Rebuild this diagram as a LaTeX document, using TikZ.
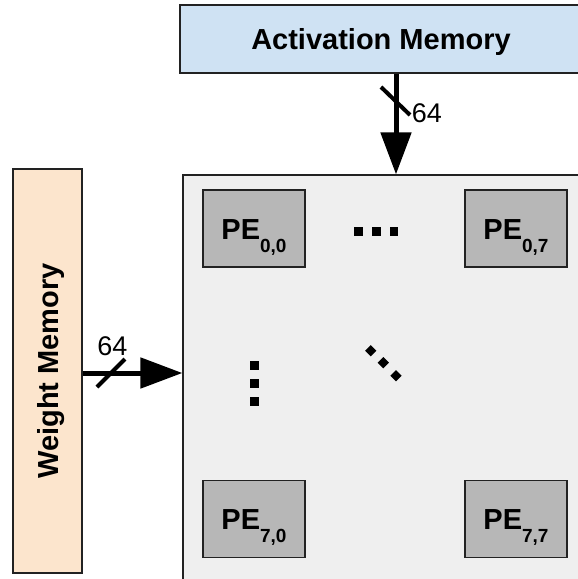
\documentclass[tikz,border=0pt]{standalone}
\usepackage{fontspec}
\setmainfont{Liberation Sans}
\usetikzlibrary{arrows.meta,calc}
\definecolor{actfill}{HTML}{CFE2F3}
\definecolor{wmfill}{HTML}{FCE5CD}
\definecolor{gridfill}{HTML}{EFEFEF}
\definecolor{pefill}{HTML}{B7B7B7}
\definecolor{edge}{HTML}{222222}
\tikzset{
  membox/.style={draw=edge, line width=1.2pt, inner sep=0pt},
  pebox/.style={draw=edge, fill=pefill, line width=1.2pt, minimum width=102pt, minimum height=77pt,
    inner sep=0pt, text height=27pt, text depth=6pt, font=\fontsize{29}{29}\selectfont\bfseries},
  bus/.style={line width=5pt, -{Triangle[length=42pt,width=30pt]}},
  slash/.style={line width=4pt},
  buslabel/.style={font=\fontsize{27}{27}\selectfont, inner sep=0pt},
  dotsq/.style={fill=black, minimum size=8.5pt, inner sep=0pt},
}
\newcommand{\pelabel}[1]{PE\raisebox{-13pt}{\fontsize{19}{19}\selectfont #1}}
\begin{document}
\begin{tikzpicture}[x=1pt,y=-1pt]
\useasboundingbox (0,0) rectangle (578,579);
\clip (0,0) rectangle (578,579);
\fill[white] (0,0) rectangle (578,579);
% memories
\node[membox, fill=actfill, minimum width=402pt, minimum height=68pt,
  text height=21pt, text depth=0pt, font=\fontsize{29}{29}\selectfont\bfseries] (act) at (381,39) {Activation Memory};
\node[membox, fill=wmfill, minimum width=69pt, minimum height=404pt] (wm) at (47.5,371) {};
\node[rotate=90, inner sep=0pt, text height=21pt, text depth=0pt, font=\fontsize{29}{29}\selectfont\bfseries] (wmtext) at (wm.center) {Weight Memory};
% PE grid
\node[membox, fill=gridfill, minimum width=417pt, minimum height=425pt] (grid) at (391.5,387.5) {};
\node[pebox] (pe00) at (254,228.5) {\pelabel{0,0}};
\node[pebox] (pe07) at (516,228.5) {\pelabel{0,7}};
\node[pebox] (pe70) at (254,519) {\pelabel{7,0}};
\node[pebox] (pe77) at (516,519) {\pelabel{7,7}};
% dots
\foreach \x in {358.5,376.5,394} \node[dotsq] at (\x,231.5) {};
\foreach \y in {365.5,383.5,401.5} \node[dotsq] at (254.5,\y) {};
\foreach \x/\y in {370.7/350.7,383.3/362.7,396/375.7} \node[dotsq, rotate=45, minimum size=8pt] at (\x,\y) {};
% buses
\coordinate (ax) at (396,0);
\coordinate (wy) at (0,373);
\draw[bus] (act.south -| ax) -- (grid.north -| ax);
\draw[bus] (wm.east |- wy) -- (grid.west |- wy);
\coordinate (as) at (395.5,101);
\coordinate (ws) at (111,373);
\draw[slash] ($(as)+(-14.5,-14)$) -- ($(as)+(14.5,14)$);
\draw[slash] ($(ws)+(-14,14)$) -- ($(ws)+(14,-14)$);
\node[buslabel] (al) at (427,113.5) {64};
\node[buslabel] (wl) at (112.5,346) {64};
\end{tikzpicture}
\end{document}
